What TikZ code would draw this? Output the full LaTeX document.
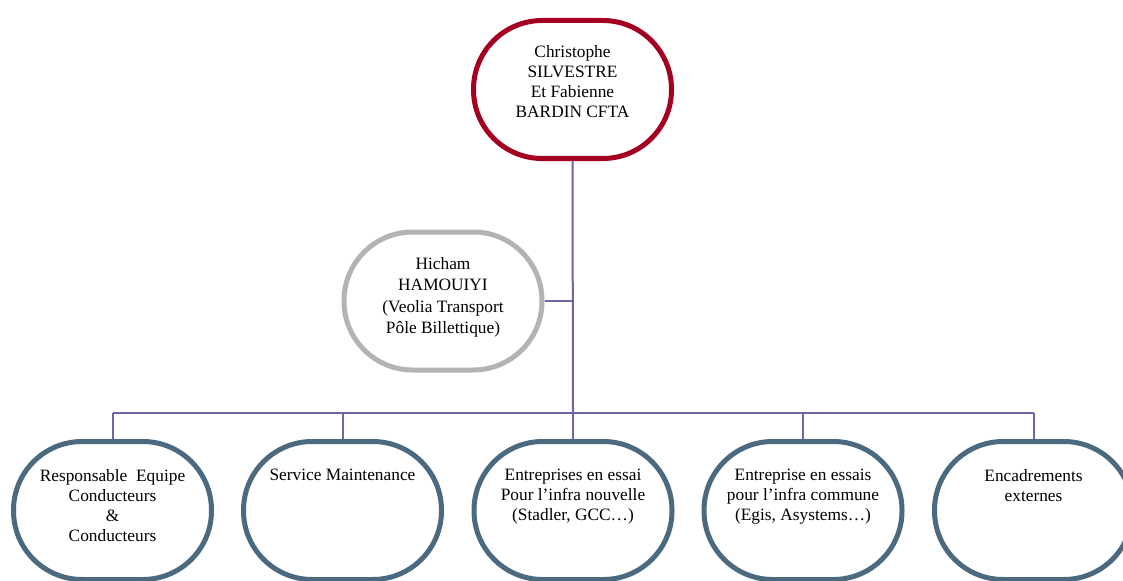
\documentclass[tikz,border=0pt]{standalone}
\usepackage{fontspec}
\setmainfont{Liberation Serif}
\definecolor{topred}{HTML}{A50021}
\definecolor{hicgray}{HTML}{B3B3B3}
\definecolor{boxblue}{HTML}{4B6A80}
\definecolor{connpurple}{HTML}{6E64A8}
\newcommand{\boxtext}[1]{\parbox[c][66pt][t]{140pt}{\centering #1}}
\newcommand{\lowtext}[1]{\parbox[c][62pt][t]{140pt}{\centering #1}}
\tikzset{
  orgbox/.style={draw, line width=3.75pt, rounded corners=51.5pt, fill=white,
    minimum width=148.5pt, minimum height=103.5pt, inner sep=0pt,
    font=\fontsize{13}{15}\selectfont},
  topbox/.style={orgbox, draw=topred},
  hicbox/.style={orgbox, draw=hicgray, font=\fontsize{13}{16.2}\selectfont},
  lowbox/.style={orgbox, draw=boxblue},
  conn/.style={draw=connpurple, line width=1.5pt}
}
\begin{document}
\begin{tikzpicture}[x=0.75pt,y=-0.75pt]
\useasboundingbox (0,0) rectangle (1123,581);
\clip (0,0) rectangle (1123,581);
\fill[white] (0,0) rectangle (1123,581);
\coordinate (hub) at (573,413);
\node[topbox] (top) at (572.5,89.5) {\boxtext{Christophe\\SILVESTRE\\Et Fabienne\\BARDIN CFTA}};
\node[hicbox] (hic) at (443,301) {\boxtext{Hicham\\HAMOUIYI\\(Veolia Transport\\Pôle Billettique)}};
\node[lowbox] (b1) at (112.5,510.5) {\lowtext{Responsable\ \ Equipe\\Conducteurs\\\&\\Conducteurs}};
\node[lowbox] (b2) at (342.5,510.5) {\lowtext{Service Maintenance}};
\node[lowbox] (b3) at (573,510.5) {\lowtext{Entreprises en essai\\Pour l’infra nouvelle\\(Stadler, GCC…)}};
\node[lowbox] (b4) at (803,510.5) {\lowtext{Entreprise en essais\\pour l’infra commune\\(Egis, Asystems…)}};
\node[lowbox] (b5) at (1033.5,510.5) {\lowtext{Encadrements\\externes}};
\draw[conn] (top.south) -- (hub);
\draw[conn] (hic.east) -- (hic.east -| hub);
\draw[conn] (hub -| b1.north) -- (hub -| b5.north);
\foreach \b in {b1,b2,b3,b4,b5} {
  \draw[conn] (\b.north |- hub) -- (\b.north);
}
\end{tikzpicture}
\end{document}
